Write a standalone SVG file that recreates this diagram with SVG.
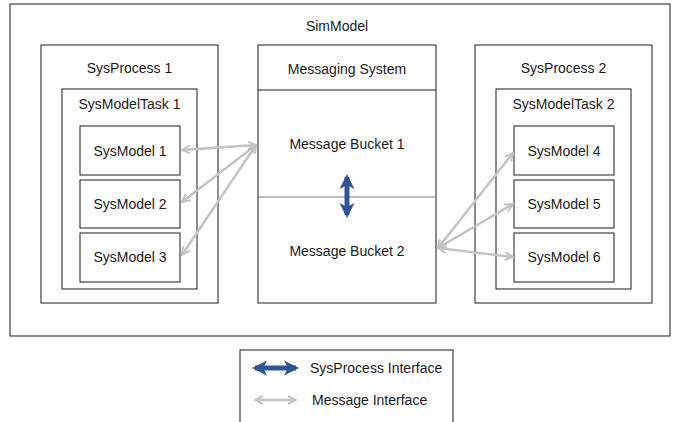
<svg xmlns="http://www.w3.org/2000/svg" width="673" height="422" viewBox="0 0 673 422">
<style>
.box{fill:#fff;stroke:#1a1a1a;stroke-width:1}
.t{font-family:"Liberation Sans",Arial,sans-serif;font-size:14px;fill:#1a1a1a;text-anchor:middle;dominant-baseline:central}
.tl{font-family:"Liberation Sans",Arial,sans-serif;font-size:14px;fill:#1a1a1a;dominant-baseline:central}
.msg{stroke:#c3c3c3;stroke-width:2.5;fill:none;marker-start:url(#gh);marker-end:url(#gh)}
.sp{stroke:#2f5597;stroke-width:5;fill:none;marker-start:url(#bh);marker-end:url(#bh)}
</style>
<defs>
<marker id="gh" viewBox="0 0 10 10" refX="9" refY="5" markerWidth="4" markerHeight="4" orient="auto-start-reverse" markerUnits="strokeWidth">
<path d="M1,1 L9,5 L1,9" fill="none" stroke="#c3c3c3" stroke-width="2" stroke-linejoin="miter"/>
</marker>
<marker id="bh" viewBox="0 0 10 10" refX="8" refY="5" markerWidth="3" markerHeight="3.3" orient="auto-start-reverse" markerUnits="strokeWidth">
<path d="M0,0 L10,5 L0,10 L2.5,5 Z" fill="#2f5597"/>
</marker>
</defs>
<g id="simmodel">
<rect class="box" x="10" y="4" width="660" height="332"/>
<text class="t" x="337" y="26">SimModel</text>
</g>
<g id="sysprocess1">
<rect class="box" x="41" y="45" width="177" height="258"/>
<text class="t" x="129.5" y="68">SysProcess 1</text>
</g>
<g id="sysmodeltask1">
<rect class="box" x="62" y="89" width="135" height="200"/>
<text class="t" x="129.5" y="104">SysModelTask 1</text>
</g>
<g id="sysmodel1"><rect class="box" x="80" y="126" width="100" height="49"/><text class="t" x="130" y="151">SysModel 1</text></g>
<g id="sysmodel2"><rect class="box" x="80" y="180" width="100" height="48"/><text class="t" x="130" y="204">SysModel 2</text></g>
<g id="sysmodel3"><rect class="box" x="80" y="233" width="100" height="49"/><text class="t" x="130" y="257">SysModel 3</text></g>
<g id="messaging">
<rect class="box" x="258" y="45" width="178" height="258"/>
<line x1="258" y1="90" x2="436" y2="90" stroke="#1a1a1a" stroke-width="1"/>
<line x1="258" y1="197" x2="436" y2="197" stroke="#7f7f7f" stroke-width="1.2"/>
<text class="t" x="347" y="69">Messaging System</text>
</g>
<g id="bucket1"><text class="t" x="347" y="144">Message Bucket 1</text></g>
<g id="bucket2"><text class="t" x="347" y="251">Message Bucket 2</text></g>
<g id="sysprocess2">
<rect class="box" x="475" y="45" width="177" height="258"/>
<text class="t" x="563.5" y="68">SysProcess 2</text>
</g>
<g id="sysmodeltask2">
<rect class="box" x="496" y="89" width="135" height="200"/>
<text class="t" x="563.5" y="104">SysModelTask 2</text>
</g>
<g id="sysmodel4"><rect class="box" x="514" y="126" width="100" height="49"/><text class="t" x="564" y="151">SysModel 4</text></g>
<g id="sysmodel5"><rect class="box" x="514" y="180" width="100" height="48"/><text class="t" x="564" y="204">SysModel 5</text></g>
<g id="sysmodel6"><rect class="box" x="514" y="233" width="100" height="49"/><text class="t" x="564" y="257">SysModel 6</text></g>
<g id="connectors">
<line class="msg" x1="256" y1="145" x2="182" y2="150"/>
<line class="msg" x1="256" y1="145" x2="182" y2="202"/>
<line class="msg" x1="256" y1="145" x2="182" y2="255"/>
<line class="msg" x1="438" y1="248" x2="513" y2="153"/>
<line class="msg" x1="438" y1="248" x2="513" y2="204"/>
<line class="msg" x1="438" y1="248" x2="513" y2="257"/>
<line class="sp" x1="347" y1="177" x2="347" y2="215"/>
</g>
<g id="legend">
<rect class="box" x="240" y="350" width="213" height="80"/>
<line class="sp" x1="255" y1="368" x2="296" y2="368"/>
<text class="tl" x="310" y="368">SysProcess Interface</text>
<line class="msg" x1="255" y1="400" x2="296" y2="400"/>
<text class="tl" x="312" y="400">Message Interface</text>
</g>
</svg>
